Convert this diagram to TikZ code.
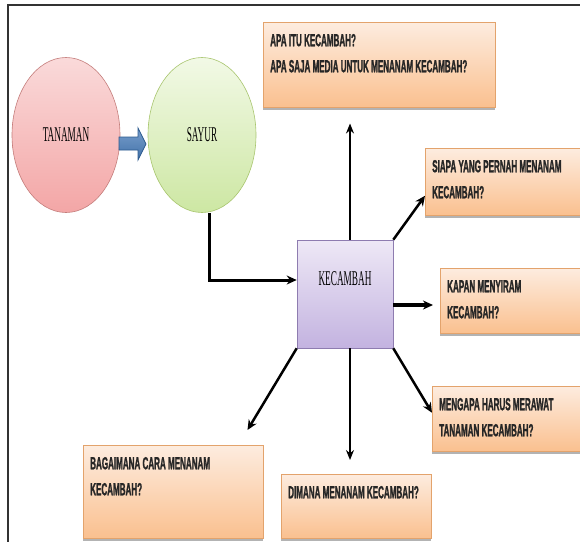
\documentclass[tikz,border=0pt]{standalone}
\usepackage{fontspec}
\newfontfamily\qfont[FakeStretch=0.46,BoldFeatures={FakeBold=1.2}]{Liberation Sans}
\newfontfamily\cfont[FakeStretch=0.44]{Liberation Serif}
\usetikzlibrary{shapes.geometric,arrows.meta,shadows}

\definecolor{qtop}{HTML}{FDECDF}
\definecolor{qbot}{HTML}{FAC08F}
\definecolor{qedge}{HTML}{E3A36C}
\definecolor{redtop}{HTML}{FADADA}
\definecolor{redbot}{HTML}{F3A6A6}
\definecolor{rededge}{HTML}{C47D7B}
\definecolor{greentop}{HTML}{F2F9E6}
\definecolor{greenbot}{HTML}{CDE7A3}
\definecolor{greenedge}{HTML}{A8C56E}
\definecolor{purtop}{HTML}{EEE8F6}
\definecolor{purbot}{HTML}{C3B3E0}
\definecolor{puredge}{HTML}{8E7CB0}
\definecolor{bluefill}{HTML}{4A7EBB}
\definecolor{blueedge}{HTML}{2C5A8E}

% box text: top padded parbox
\newcommand{\qtxt}[3]{\parbox[t][#1][t]{#2}{\rule{0pt}{24pt}#3}}

\begin{document}
\begin{tikzpicture}[x=1pt,y=-1pt]
    \tikzstyle{every node}=[inner sep=0pt]
    \tikzstyle{bubble}=[ellipse, minimum width=108pt, minimum height=155pt, line width=0.6pt, font=\cfont\fontsize{21}{21}\selectfont]
    \tikzstyle{qbox}=[rectangle, anchor=north west, draw=qedge, line width=0.5pt, top color=qtop, bottom color=qbot, inner xsep=7pt, drop shadow={shadow xshift=0pt, shadow yshift=-2.5pt, fill=black!50, opacity=.6}, align=left, text=black!85, font=\qfont\bfseries\fontsize{17.5}{26}\selectfont]
    \tikzstyle{arr}=[-{Stealth[length=10pt,width=9pt]}, line width=2.5pt]
    \tikzstyle{thinarr}=[-{Stealth[length=10pt,width=8pt]}, line width=1.3pt]

    \useasboundingbox (0,0) rectangle (580,541);
    \clip (0,0) rectangle (580,541);

    % Frame
    \draw [line width=1.8pt, black!80] (8,545) -- (8,5) -- (585,5);

    % Circles (TANAMAN to SAYUR)
    \node [bubble, draw=rededge, top color=redtop, bottom color=redbot] (tanaman) at (66,135) {TANAMAN};
    \node [bubble, draw=greenedge, top color=greentop, bottom color=greenbot] (sayur) at (202,135) {SAYUR};
    \draw [draw=blueedge, line width=0.8pt, top color=bluefill!75, bottom color=bluefill!90!black] (119,137) -- (138,137) -- (138,128) -- (146,144) -- (138,160) -- (138,150) -- (119,150) -- cycle;

    % Centre square
    \node [rectangle, draw=puredge, line width=0.6pt, top color=purtop, bottom color=purbot, minimum width=96pt, minimum height=108pt, align=center, font=\cfont\fontsize{21}{21}\selectfont] (kecambah) at (345,294) {KECAMBAH\\[10pt]};

    % Question boxes
    \node [qbox] (apa) at (263,22) {\qtxt{85pt}{218pt}{APA ITU KECAMBAH?\\APA SAJA MEDIA UNTUK MENANAM KECAMBAH?}};
    \node [qbox] (siapa) at (425,148) {\qtxt{67pt}{160pt}{SIAPA YANG PERNAH MENANAM\\KECAMBAH?}};
    \node [qbox] (kapan) at (440,268) {\qtxt{65pt}{140pt}{KAPAN MENYIRAM\\KECAMBAH?}};
    \node [qbox] (mengapa) at (432,386) {\qtxt{65pt}{150pt}{MENGAPA HARUS MERAWAT\\TANAMAN KECAMBAH?}};
    \node [qbox] (bagaimana) at (83,445) {\qtxt{93pt}{166pt}{BAGAIMANA CARA MENANAM\\KECAMBAH?}};
    \node [qbox] (dimana) at (281,474) {\qtxt{64pt}{136pt}{DIMANA MENANAM KECAMBAH?}};

    % Arrows
    \draw [arr, line width=3pt] ([xshift=7pt]sayur.south) |- ([yshift=14pt]kecambah.west);
    \draw [thinarr, shorten >=16pt] ([xshift=5pt]kecambah.north) -- ([xshift=5pt]kecambah.north |- apa.south);
    \draw [arr] (kecambah.north east) -- ([yshift=-14pt]siapa.west);
    \draw [arr, line width=3.2pt, shorten >=7pt] ([yshift=-11pt]kecambah.east) -- ([yshift=-11pt]kecambah.east -| kapan.west);
    \draw [arr] (kecambah.south east) -- ([yshift=6pt]mengapa.west);
    \draw [arr] (kecambah.south west) -- ([xshift=-16pt,yshift=15pt]bagaimana.north east);
    \draw [thinarr, shorten >=14pt] ([xshift=5pt]kecambah.south) -- ([xshift=5pt]kecambah.south |- dimana.north);

\end{tikzpicture}
\end{document}
